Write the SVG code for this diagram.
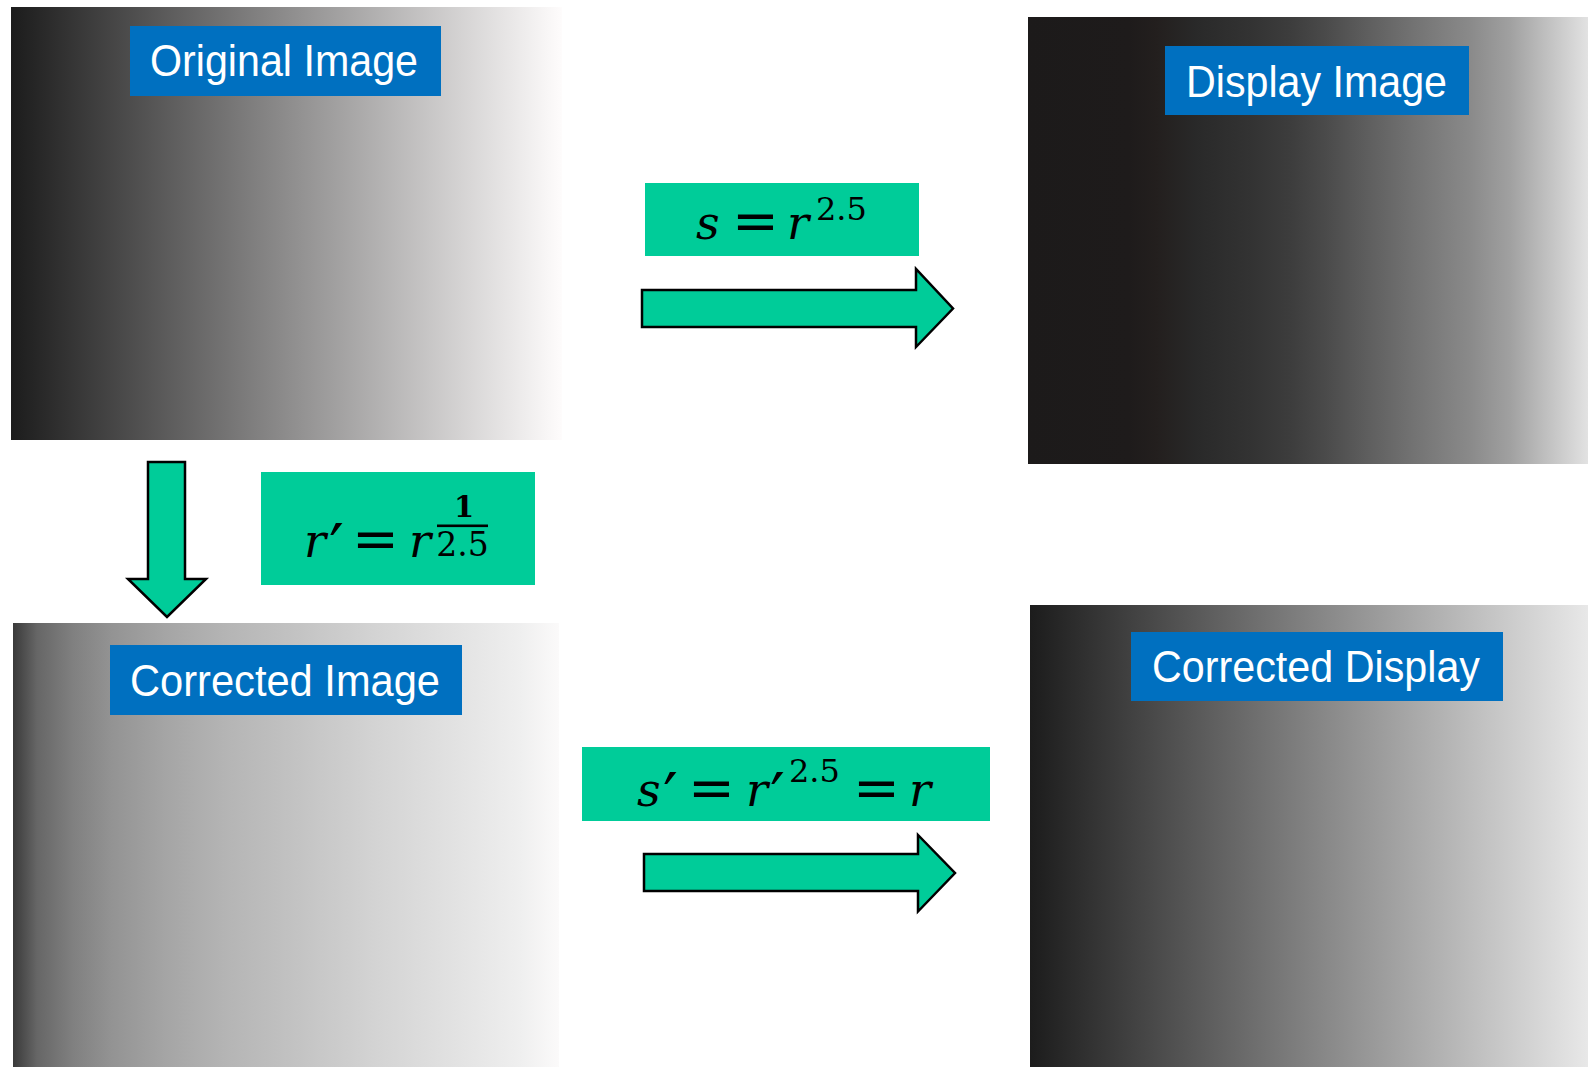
<svg xmlns="http://www.w3.org/2000/svg" width="1588" height="1067" viewBox="0 0 1588 1067">
  <defs>
    <!-- linear ramp as captured -->
    <linearGradient id="gOriginal" x1="0" y1="0" x2="1" y2="0">
      <stop offset="0" stop-color="#1c1c1c"/>
      <stop offset="1" stop-color="#fefcfc"/>
    </linearGradient>
    <!-- ramp after the display's gamma of 2.5 -->
    <linearGradient id="gDisplay" x1="0" y1="0" x2="1" y2="0">
      <stop offset="0" stop-color="#1c1a1a"/>
      <stop offset="0.18" stop-color="#1e1b1b"/>
      <stop offset="0.23" stop-color="#231f1e"/>
      <stop offset="0.30" stop-color="#292929"/>
      <stop offset="0.40" stop-color="#333333"/>
      <stop offset="0.47" stop-color="#3d3d3d"/>
      <stop offset="0.53" stop-color="#4a4a4a"/>
      <stop offset="0.61" stop-color="#5f5f5f"/>
      <stop offset="0.69" stop-color="#737373"/>
      <stop offset="0.79" stop-color="#8a8a8a"/>
      <stop offset="0.86" stop-color="#a0a0a0"/>
      <stop offset="0.92" stop-color="#bdbdbd"/>
      <stop offset="1" stop-color="#e2e2e2"/>
    </linearGradient>
    <!-- ramp pre-corrected with exponent 1/2.5 -->
    <linearGradient id="gCorrected" x1="0" y1="0" x2="1" y2="0">
      <stop offset="0" stop-color="#3a3a3a"/>
      <stop offset="0.044" stop-color="#666666"/>
      <stop offset="0.11" stop-color="#808080"/>
      <stop offset="0.18" stop-color="#939393"/>
      <stop offset="0.28" stop-color="#a5a5a5"/>
      <stop offset="0.385" stop-color="#b4b4b4"/>
      <stop offset="0.52" stop-color="#c3c3c3"/>
      <stop offset="0.66" stop-color="#d3d3d3"/>
      <stop offset="0.80" stop-color="#e1e1e1"/>
      <stop offset="0.93" stop-color="#efefef"/>
      <stop offset="1" stop-color="#fbfafa"/>
    </linearGradient>
    <!-- corrected ramp shown on the display: linear again -->
    <linearGradient id="gCorrDisplay" x1="0" y1="0" x2="1" y2="0">
      <stop offset="0" stop-color="#1c1c1c"/>
      <stop offset="1" stop-color="#e8e8e8"/>
    </linearGradient>
  </defs>
  <style>
    .label-box { fill: #0070c0; }
    .label { fill: #ffffff; font-family: "Liberation Sans", Arial, sans-serif; font-size: 44px; text-anchor: middle; }
    .eq-box { fill: #00cc99; }
    .math { font-family: "DejaVu Serif", serif; fill: #000000; }
    .var { font-style: italic; font-size: 46px; }
    .prime { font-family: "DejaVu Sans", sans-serif; font-size: 66px; }
    .op { font-size: 56px; }
    .sup { font-size: 32px; }
    .arrow { fill: #00cc99; stroke: #000000; stroke-width: 2.5; stroke-linejoin: miter; }
  </style>

  <rect width="1588" height="1067" fill="#ffffff"/>

  <!-- image panels -->
  <g id="node-original">
    <rect x="11" y="7" width="551" height="433" fill="url(#gOriginal)"/>
    <rect class="label-box" x="130" y="26" width="311" height="70"/>
    <text class="label" x="284" y="76" textLength="268" lengthAdjust="spacingAndGlyphs">Original Image</text>
  </g>

  <g id="node-display">
    <rect x="1028" y="17" width="560" height="447" fill="url(#gDisplay)"/>
    <rect class="label-box" x="1165" y="46" width="304" height="69"/>
    <text class="label" x="1316.5" y="97" textLength="261" lengthAdjust="spacingAndGlyphs">Display Image</text>
  </g>

  <g id="node-corrected">
    <rect x="13" y="623" width="546" height="444" fill="url(#gCorrected)"/>
    <rect class="label-box" x="110" y="645" width="352" height="70"/>
    <text class="label" x="285" y="696" textLength="310" lengthAdjust="spacingAndGlyphs">Corrected Image</text>
  </g>

  <g id="node-corrected-display">
    <rect x="1030" y="605" width="558" height="462" fill="url(#gCorrDisplay)"/>
    <rect class="label-box" x="1131" y="632" width="372" height="69"/>
    <text class="label" x="1316" y="682" textLength="328" lengthAdjust="spacingAndGlyphs">Corrected Display</text>
  </g>

  <!-- transfer functions -->
  <g id="eq-display">
    <rect class="eq-box" x="645" y="183" width="274" height="73"/>
    <text class="math"><tspan class="var" x="696" y="239">s</tspan><tspan class="op" x="732" y="240">=</tspan><tspan class="var" x="787" y="239">r</tspan><tspan class="sup" x="816" y="220">2.5</tspan></text>
  </g>

  <g id="eq-correction">
    <rect class="eq-box" x="261" y="472" width="274" height="113"/>
    <text class="math"><tspan class="var" x="304" y="557">r</tspan><tspan class="prime" x="329" y="571">′</tspan><tspan class="op" x="352" y="558">=</tspan><tspan class="var" x="409" y="557">r</tspan></text>
    <text class="math" x="464" y="517" font-size="29" font-weight="bold" text-anchor="middle">1</text>
    <rect x="437" y="524.5" width="51" height="2.6" fill="#000000"/>
    <text class="math" x="462.5" y="556" font-size="33" text-anchor="middle">2.5</text>
  </g>

  <g id="eq-corrected-display">
    <rect class="eq-box" x="582" y="747" width="408" height="74"/>
    <text class="math"><tspan class="var" x="637" y="806">s</tspan><tspan class="prime" x="663" y="820">′</tspan><tspan class="op" x="688" y="807">=</tspan><tspan class="var" x="746" y="806">r</tspan><tspan class="prime" x="770" y="820">′</tspan><tspan class="sup" x="789" y="782">2.5</tspan><tspan class="op" x="853" y="807">=</tspan><tspan class="var" x="909" y="806">r</tspan></text>
  </g>

  <!-- block arrows between stages -->
  <g id="connectors">
    <polygon class="arrow" points="642,290 916,290 916,269 953,308.5 916,347 916,327 642,327"/>
    <polygon class="arrow" points="148,462 185,462 185,579 206,579 167,617 128,579 148,579"/>
    <polygon class="arrow" points="644,854 918,854 918,835 955,873 918,911.5 918,891 644,891"/>
  </g>
</svg>
